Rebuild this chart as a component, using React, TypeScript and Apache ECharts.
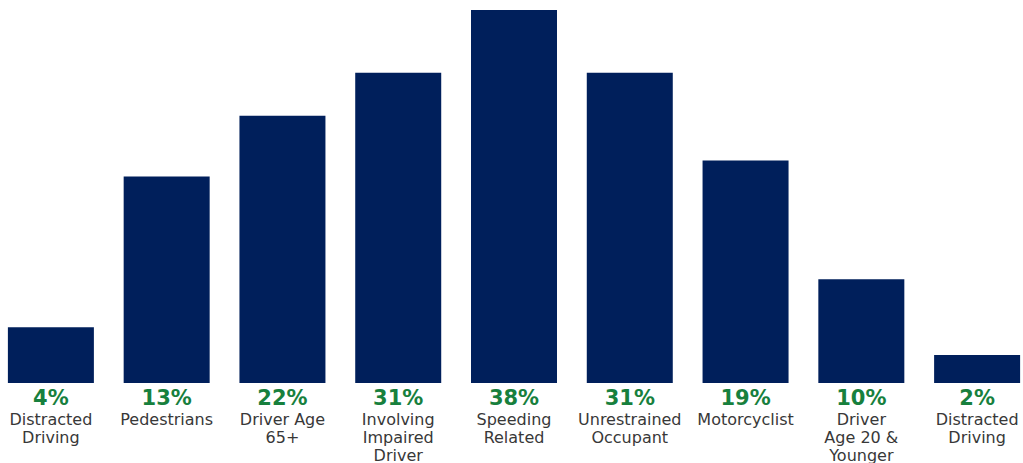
import React, { useEffect, useRef } from "react";
import * as echarts from "echarts";

const categories = [
  "Distracted\nDriving",
  "Pedestrians",
  "Driver Age\n65+",
  "Involving\nImpaired\nDriver",
  "Speeding\nRelated",
  "Unrestrained\nOccupant",
  "Motorcyclist",
  "Driver\nAge 20 &\nYounger",
  "Distracted\nDriving",
];
const percentLabels = ["4%", "13%", "22%", "31%", "38%", "31%", "19%", "10%", "2%"];
// relative bar heights (tallest = 374)
const barValues = [56, 207, 268, 311, 374, 311, 223, 104, 28];

export default function App() {
  const ref = useRef<HTMLDivElement>(null);
  useEffect(() => {
    document.body.style.margin = "0";
    document.body.style.overflow = "hidden";
    const chart = echarts.init(ref.current!, undefined, { renderer: "svg" });
    chart.setOption({
      animation: false,
      grid: { left: 0, right: 0, top: 10, bottom: 79, containLabel: false },
      xAxis: {
        type: "category",
        data: categories.map((c, i) => i + ":" + c),
        axisLine: { show: false },
        axisTick: { show: false },
        axisLabel: {
          interval: 0,
          margin: 3,
          formatter: (v: string) => {
            const i = parseInt(v.split(":")[0], 10);
            const lines = categories[i].split("\n").map((l) => "{c|" + l + "}").join("\n");
            return "{p|" + percentLabels[i] + "}\n" + lines;
          },
          rich: {
            p: {
              fontFamily: "DejaVu Sans",
              fontWeight: "bold",
              fontSize: 21,
              color: "#17803d",
              lineHeight: 24,
            },
            c: {
              fontFamily: "DejaVu Sans",
              fontSize: 16,
              color: "#383838",
              lineHeight: 18,
            },
          },
        },
      },
      yAxis: {
        type: "value",
        min: 0,
        max: 374,
        show: false,
        splitLine: { show: false },
      },
      series: [
        {
          type: "bar",
          data: barValues,
          barWidth: 86,
          itemStyle: { color: "#001f5b" },
        },
      ],
    });
    return () => chart.dispose();
  }, []);
  return (
    <div style={{ width: 1023, height: 463, overflow: "hidden", position: "relative" }}>
      <div ref={ref} style={{ position: "absolute", left: -7, top: 0, width: 1042, height: 463 }} />
    </div>
  );
}
